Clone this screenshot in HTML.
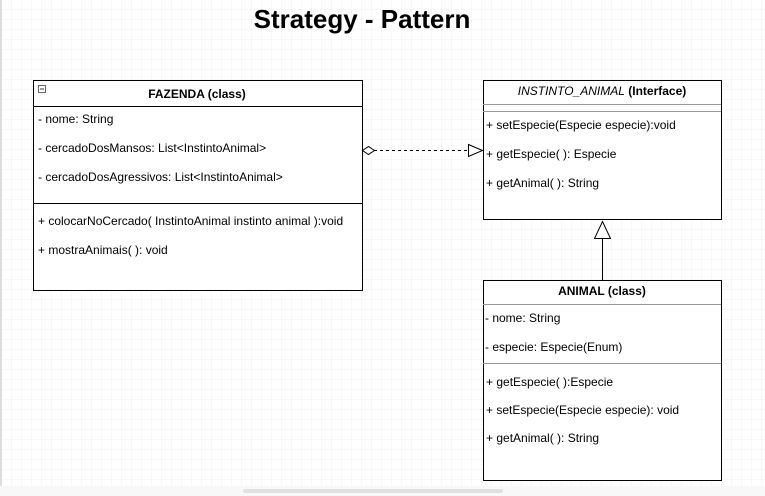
<!DOCTYPE html>
<html><head><meta charset="utf-8"><style>
html,body{margin:0;padding:0;background:#fff;}
svg{display:block;font-family:"Liberation Sans",Arial,sans-serif;}
</style></head><body>
<svg width="765" height="496" viewBox="0 0 765 496" xmlns="http://www.w3.org/2000/svg">
<defs>
<pattern id="minor" width="10" height="10" patternUnits="userSpaceOnUse" x="2" y="0">
<path d="M10 0V10M0 10H10" stroke="#f1f1f1" stroke-width="1" fill="none"/>
</pattern>
<pattern id="major" width="40" height="40" patternUnits="userSpaceOnUse" x="2" y="0">
<path d="M40.5 0V40M0 40.5H40" stroke="#e2e2e2" stroke-width="1" fill="none"/>
</pattern>
</defs>
<rect x="0" y="0" width="765" height="486" fill="#fff"/>
<rect x="2" y="0" width="763" height="486" fill="url(#minor)"/>
<rect x="2" y="0" width="763" height="486" fill="url(#major)"/>
<rect x="0" y="0" width="2" height="486" fill="#ddd"/>
<rect x="0" y="486" width="765" height="10" fill="#f8f8f8"/>
<rect x="243" y="489" width="260" height="4" rx="2" fill="#e0e0e0"/>

<text x="362" y="28" text-anchor="middle" font-size="26" font-weight="bold" fill="#000">Strategy - Pattern</text>

<g stroke="#000" stroke-width="1" fill="#fff">
<rect x="33.5" y="80.5" width="329" height="210"/>
<rect x="483.5" y="80.5" width="238" height="139"/>
<rect x="483.5" y="280.5" width="238" height="200"/>
</g>
<g stroke="#000" stroke-width="1">
<line x1="33" y1="106.5" x2="362" y2="106.5"/>
<line x1="33" y1="203.5" x2="362" y2="203.5"/>
</g>
<g stroke="#999" stroke-width="1">
<line x1="483" y1="104.5" x2="721" y2="104.5"/>
<line x1="483" y1="111.5" x2="721" y2="111.5"/>
<line x1="483" y1="304.5" x2="721" y2="304.5"/>
<line x1="483" y1="363.5" x2="721" y2="363.5"/>
</g>
<rect x="38.5" y="85.5" width="7" height="7" fill="#fff" stroke="#666"/>
<line x1="40" y1="89" x2="44" y2="89" stroke="#333"/>

<g font-size="12" fill="#000">
<text x="197" y="98" text-anchor="middle" font-weight="bold">FAZENDA (class)</text>
<text x="38" y="123">- nome: String</text>
<text x="38" y="152">- cercadoDosMansos: List&lt;InstintoAnimal&gt;</text>
<text x="38" y="181">- cercadoDosAgressivos: List&lt;InstintoAnimal&gt;</text>
<text x="38" y="225">+ colocarNoCercado( InstintoAnimal instinto animal ):void</text>
<text x="38" y="254">+ mostraAnimais( ): void</text>

<text x="602" y="95" text-anchor="middle"><tspan font-style="italic">INSTINTO_ANIMAL</tspan> <tspan font-weight="bold">(Interface)</tspan></text>
<text x="486" y="129">+ setEspecie(Especie especie):void</text>
<text x="486" y="158">+ getEspecie( ): Especie</text>
<text x="486" y="187">+ getAnimal( ): String</text>

<text x="602" y="295" text-anchor="middle" font-weight="bold">ANIMAL (class)</text>
<text x="485" y="322">- nome: String</text>
<text x="485" y="351">- especie: Especie(Enum)</text>
<text x="486" y="386">+ getEspecie( ):Especie</text>
<text x="486" y="414">+ setEspecie(Especie especie): void</text>
<text x="486" y="442">+ getAnimal( ): String</text>
</g>

<line x1="374" y1="150.5" x2="468" y2="150.5" stroke="#000" stroke-dasharray="3,3"/>
<path d="M362.5 150.5 L368.5 146.5 L374.5 150.5 L368.5 154.5 Z" fill="#fff" stroke="#000"/>
<path d="M468.5 144.5 L482.5 150.5 L468.5 156.5 Z" fill="#fff" stroke="#000"/>

<line x1="602.5" y1="238" x2="602.5" y2="280" stroke="#000"/>
<path d="M602.5 221.5 L610.5 238.5 L594.5 238.5 Z" fill="#fff" stroke="#000"/>
</svg>
</body></html>
